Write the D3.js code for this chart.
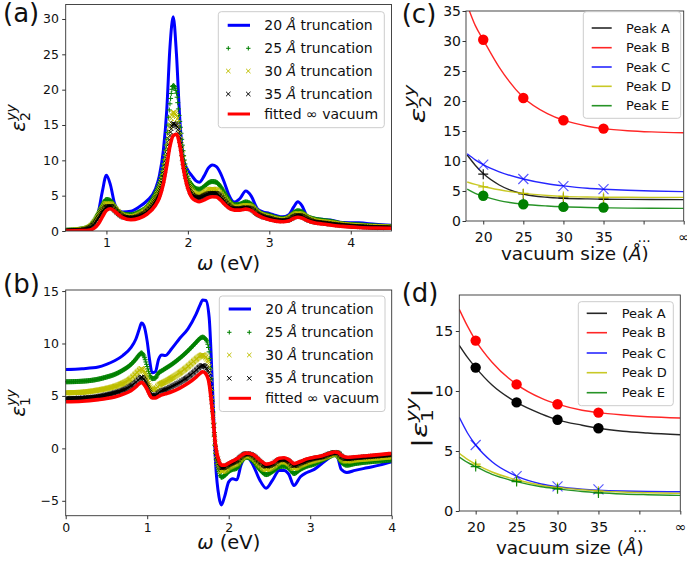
<!DOCTYPE html>
<html><head><meta charset="utf-8">
<script src="https://cdn.jsdelivr.net/npm/d3@7"></script>
<style>body{margin:0;background:#fff}svg{font-family:"DejaVu Sans",sans-serif;display:block}</style>
</head><body><svg id="fig" width="687" height="566"></svg>
<script>
// ---------------- DATA ----------------
const omegaA = [0.5,0.7,0.8,0.85,0.9,0.95,1.0,1.05,1.1,1.15,1.2,1.3,1.4,1.5,1.6,1.65,1.7,1.74,1.78,1.82,1.86,1.9,1.95,2.0,2.05,2.1,2.14,2.2,2.25,2.3,2.35,2.4,2.45,2.5,2.57,2.64,2.71,2.78,2.85,2.92,3.0,3.08,3.16,3.24,3.3,3.35,3.4,3.46,3.55,3.65,3.75,3.9,4.1,4.3,4.5];
const eps2_20 = [0.1,0.15,0.4,1.0,2.6,5.6,7.9,6.5,3.9,2.9,2.7,2.8,3.4,4.3,5.9,7.8,11.5,17,26,30.3,25,16,10,8.6,7.8,7.1,6.9,7.8,8.9,9.35,9.1,8.2,6.8,5.2,4.1,4.6,5.65,4.9,3.2,2.7,2.5,2.2,2.0,2.3,3.4,4.15,3.6,2.2,1.8,1.65,1.55,1.2,1.15,0.95,0.8];
const eps2_25 = [0.1,0.3,0.8,1.5,2.5,3.7,4.45,4.3,3.5,2.8,2.4,2.3,2.7,3.5,5.3,6.8,9.5,13,18,20.6,19.5,15.5,10.5,7.6,6.5,6.0,5.9,6.3,6.8,7.0,6.9,6.3,5.4,4.5,3.7,3.8,4.1,3.8,2.9,2.4,2.2,1.9,1.75,2.0,2.6,2.85,2.7,2.1,1.7,1.5,1.35,1.0,0.85,0.7,0.6];
const eps2_30 = [0.05,0.2,0.6,1.2,2.1,3.2,3.85,3.8,3.2,2.6,2.2,2.0,2.3,3.1,4.6,6.0,8.2,11,14.8,16.8,16.2,13.5,9.5,6.9,5.7,5.2,5.1,5.4,5.8,5.9,5.8,5.3,4.6,3.9,3.35,3.4,3.6,3.4,2.6,2.2,1.95,1.7,1.55,1.75,2.25,2.45,2.3,1.85,1.45,1.3,1.15,0.9,0.72,0.6,0.52];
const eps2_35 = [0.05,0.15,0.5,1.0,1.8,2.8,3.4,3.5,3.0,2.45,2.05,1.85,2.1,2.8,4.2,5.4,7.6,10.2,13.5,15.2,14.9,12.8,9.0,6.5,5.2,4.8,4.7,5.0,5.25,5.35,5.3,4.9,4.2,3.6,3.15,3.15,3.3,3.1,2.45,2.05,1.8,1.55,1.45,1.6,2.0,2.2,2.1,1.7,1.3,1.15,1.0,0.8,0.62,0.52,0.45];
const eps2_fit = [0.0,0.05,0.15,0.4,1.0,2.0,2.9,3.15,2.8,2.3,1.9,1.6,1.8,2.4,3.6,4.7,6.7,9.2,12,13.5,13.7,12.2,8.5,6.0,4.7,4.3,4.15,4.4,4.7,4.85,4.8,4.4,3.8,3.3,2.95,2.95,3.1,2.9,2.3,1.9,1.6,1.4,1.3,1.45,1.8,1.95,1.85,1.5,1.15,1.0,0.85,0.65,0.5,0.42,0.38];

const omegaB = [0,0.2,0.4,0.5,0.6,0.7,0.8,0.86,0.9,0.93,0.96,1.0,1.03,1.06,1.1,1.14,1.18,1.22,1.3,1.4,1.5,1.6,1.65,1.68,1.72,1.76,1.8,1.84,1.88,1.91,1.95,2.0,2.05,2.1,2.15,2.22,2.3,2.38,2.46,2.54,2.62,2.68,2.74,2.8,2.88,2.96,3.05,3.15,3.25,3.3,3.34,3.38,3.45,3.55,3.7,3.85,4.0];
const eps1_20 = [7.52,7.6,7.75,8.0,8.35,8.85,9.6,10.4,11.3,11.95,11.7,10.2,8.4,7.2,7.3,8.5,8.9,8.85,9.5,10.5,11.4,12.8,13.7,14.15,14.1,12.5,6.0,-1.5,-4.6,-5.4,-4.6,-3.2,-2.9,-3.0,-1.6,-0.8,-1.6,-3.0,-3.8,-3.0,-2.1,-2.1,-2.5,-3.55,-2.7,-2.3,-2.0,-1.4,-0.8,-0.5,-0.9,-2.0,-2.3,-2.1,-1.85,-1.6,-1.27];
const eps1_25 = [6.35,6.4,6.6,6.8,7.05,7.45,8.0,8.5,8.9,9.1,8.8,7.8,7.0,6.65,6.7,7.2,7.4,7.6,8.0,8.6,9.3,10.1,10.5,10.6,10.4,9.2,4.5,-0.5,-2.2,-2.75,-2.6,-2.2,-2.0,-1.9,-1.3,-0.85,-1.2,-2.0,-2.5,-2.2,-1.75,-1.7,-1.9,-2.4,-2.0,-1.7,-1.5,-1.1,-0.75,-0.6,-0.8,-1.3,-1.6,-1.45,-1.3,-1.2,-1.1];
const eps1_30 = [5.3,5.35,5.55,5.7,5.9,6.2,6.65,7.1,7.4,7.6,7.35,6.6,5.9,5.6,5.65,6.0,6.2,6.35,6.7,7.2,7.8,8.5,8.8,8.9,8.7,7.8,4.0,-0.2,-1.7,-2.2,-2.1,-1.8,-1.6,-1.4,-1.0,-0.65,-0.9,-1.55,-2.0,-1.75,-1.3,-1.25,-1.45,-1.9,-1.6,-1.35,-1.15,-0.9,-0.6,-0.45,-0.55,-0.95,-1.2,-1.1,-1.0,-0.9,-0.8];
const eps1_35 = [4.75,4.8,4.95,5.1,5.3,5.55,5.95,6.3,6.6,6.8,6.6,6.0,5.4,5.05,5.05,5.3,5.5,5.6,5.9,6.3,6.8,7.45,7.8,7.9,7.7,6.9,3.7,0.0,-1.4,-1.85,-1.8,-1.55,-1.35,-1.15,-0.8,-0.5,-0.7,-1.25,-1.7,-1.5,-1.1,-1.05,-1.25,-1.65,-1.4,-1.15,-0.95,-0.8,-0.5,-0.4,-0.45,-0.75,-1.0,-0.9,-0.8,-0.7,-0.6];
const eps1_fit = [4.45,4.5,4.65,4.75,4.9,5.15,5.5,5.85,6.15,6.3,6.1,5.6,5.1,4.8,4.8,4.95,5.1,5.2,5.4,5.75,6.2,6.8,7.15,7.3,7.1,6.2,3.5,0.2,-1.2,-1.6,-1.6,-1.4,-1.2,-1.0,-0.7,-0.45,-0.6,-1.1,-1.5,-1.35,-0.95,-0.9,-1.1,-1.45,-1.25,-1.0,-0.85,-0.7,-0.45,-0.35,-0.4,-0.65,-0.85,-0.8,-0.7,-0.6,-0.48];

const spectraLabels = ["20 Å truncation","25 Å truncation","30 Å truncation","35 Å truncation","fitted ∞ vacuum"];
const peakNames = ["Peak A","Peak B","Peak C","Peak D","Peak E"];

const vacSizes = [20,25,30,35];
const fitVac = [18,19,20,22,25,28,30,33,35,38,41,45];
const vacTickVals = [20,25,30,35,40,45];
const vacTickLabels = ["20","25","30","35","...","∞"];

// panel (c): eps2 peak heights
const c_pts_A = [7.8,4.5,3.8,3.65];
const c_pts_B = [30.2,20.5,16.8,15.4];
const c_pts_C = [9.4,7.0,5.8,5.3];
const c_pts_D = [5.7,4.6,4.1,3.9];
const c_pts_E = [4.2,2.8,2.35,2.25];
const c_fit_A = [11.0,9.3,7.9,6.0,4.5,3.95,3.8,3.68,3.63,3.6,3.58,3.57];
const c_fit_B = [36,32.6,30.2,25.6,20.6,17.9,16.8,15.8,15.4,15.05,14.85,14.7];
const c_fit_C = [11.2,10.2,9.4,8.2,7.0,6.2,5.85,5.45,5.3,5.12,5.0,4.9];
const c_fit_D = [6.5,6.1,5.75,5.2,4.6,4.25,4.1,4.0,3.97,3.95,3.94,3.93];
const c_fit_E = [5.3,4.6,4.15,3.4,2.8,2.5,2.37,2.25,2.2,2.15,2.12,2.1];
// panel (d): |eps1| peak heights
const d_pts_A = [11.95,9.05,7.6,6.9];
const d_pts_B = [14.2,10.55,8.9,8.2];
const d_pts_C = [5.5,2.9,2.05,1.8];
const d_pts_D = [3.9,2.55,1.95,1.65];
const d_pts_E = [3.7,2.45,1.85,1.5];
const d_fit_A = [13.8,12.8,11.95,10.5,9.05,8.1,7.6,7.15,6.9,6.65,6.5,6.35];
const d_fit_B = [16.8,15.4,14.2,12.4,10.55,9.4,8.9,8.4,8.2,8.0,7.85,7.75];
const d_fit_C = [7.8,6.5,5.5,4.1,2.9,2.25,2.02,1.82,1.74,1.67,1.63,1.6];
const d_fit_D = [4.8,4.3,3.9,3.25,2.6,2.15,1.97,1.77,1.68,1.58,1.52,1.47];
const d_fit_E = [4.5,4.05,3.7,3.05,2.45,2.02,1.85,1.62,1.52,1.42,1.36,1.3];

// ---------------- RENDER ----------------
const svg = d3.select("#fig");
const COL = {b:"#0000ff", g:"#008000", y:"#bfbf00", k:"#000000", r:"#ff0000"};

function makePanel(o){
  const x = d3.scaleLinear().domain(o.xd).range(o.xr);
  const y = d3.scaleLinear().domain(o.yd).range(o.yr);
  const g = svg.append("g");
  svg.append("clipPath").attr("id","clip"+o.id).append("rect")
    .attr("x",o.xr[0]).attr("y",o.yr[1]).attr("width",o.xr[1]-o.xr[0]).attr("height",o.yr[0]-o.yr[1]);
  const xa = d3.axisBottom(x).tickValues(o.xt).tickSize(3.5).tickPadding(o.xpad).tickFormat(o.xf||d3.format("d"));
  const ya = d3.axisLeft(y).tickValues(o.yt).tickSize(3.5).tickPadding(o.ypad).tickFormat(d3.format("d"));
  const style = s => { s.select(".domain").remove(); s.attr("font-size",o.tf).attr("font-family","DejaVu Sans");
    s.selectAll("line").attr("stroke","#333"); s.selectAll("text").attr("fill","#111"); };
  g.append("g").attr("transform",`translate(0,${o.yr[0]})`).call(xa).call(style);
  g.append("g").attr("transform",`translate(${o.xr[0]},0)`).call(ya).call(style);
  const plot = g.append("g").attr("clip-path",`url(#clip${o.id})`);
  g.append("rect").attr("x",o.xr[0]).attr("y",o.yr[1]).attr("width",o.xr[1]-o.xr[0])
    .attr("height",o.yr[0]-o.yr[1]).attr("fill","none").attr("stroke","#333").attr("stroke-width",0.9);
  return {x,y,g,plot};
}

function symPath(type, px, py, r){
  if(type==="+") return `M${px-r},${py}H${px+r}M${px},${py-r}V${py+r}`;
  return `M${px-r},${py-r}L${px+r},${py+r}M${px-r},${py+r}L${px+r},${py-r}`;
}

// positions of markers on the drawn curve at equally spaced omega
function pointsAtX(node, xsPx){
  const L = node.getTotalLength(), tab=[];
  for(let s=0;s<=L;s+=0.4){const p=node.getPointAtLength(s); tab.push([p.x,p.y]);}
  const out=[]; let j=0;
  for(const xp of xsPx){
    while(j<tab.length-2 && tab[j+1][0]<xp) j++;
    const a=tab[j], b=tab[j+1]; let t=b[0]===a[0]?0:(xp-a[0])/(b[0]-a[0]); t=Math.max(0,Math.min(1,t));
    out.push([xp, a[1]+(b[1]-a[1])*t]);
  }
  return out;
}

function spectrum(P, xs, ys, style){
  const data = xs.map((v,i)=>[v,ys[i]]);
  const line = d3.line().x(d=>P.x(d[0])).y(d=>P.y(d[1])).curve(d3.curveMonotoneX);
  if(style.kind==="line"){
    P.plot.append("path").attr("d",line(data)).attr("fill","none").attr("stroke",style.color)
      .attr("stroke-width",style.lw).attr("stroke-linejoin","round");
  } else {
    const guide = P.plot.append("path").attr("d",line(data)).attr("fill","none").attr("stroke","none");
    const om = d3.range(xs[0], xs[xs.length-1]+1e-9, 0.008).map(v=>P.x(v));
    const pts = pointsAtX(guide.node(), om);
    P.plot.append("path").attr("d",pts.map(p=>symPath(style.kind,p[0],p[1],style.r)).join(""))
      .attr("fill","none").attr("stroke",style.color).attr("stroke-width",style.sw);
    guide.remove();
  }
}

function spectraLegend(bx, by, bw, bh, lineYs, labels){
  const g = svg.append("g");
  g.append("rect").attr("x",bx).attr("y",by).attr("width",bw).attr("height",bh).attr("rx",3)
    .attr("fill","#fff").attr("fill-opacity",0.8).attr("stroke","#cccccc").attr("stroke-width",1);
  const st = [{kind:"line",color:COL.b,lw:3},{kind:"+",color:COL.g},{kind:"x",color:COL.y},{kind:"x",color:COL.k},{kind:"line",color:COL.r,lw:3}];
  st.forEach((s,i)=>{
    const ly = lineYs[i];
    if(s.kind==="line") g.append("line").attr("x1",bx+9.4).attr("x2",bx+31.7).attr("y1",ly).attr("y2",ly).attr("stroke",s.color).attr("stroke-width",s.lw);
    else g.append("path").attr("d",symPath(s.kind,bx+10,ly,2.2)+symPath(s.kind,bx+30,ly,2.2)).attr("stroke",s.color).attr("stroke-width",1).attr("fill","none");
    const t = g.append("text").attr("x",bx+46).attr("y",ly+5).attr("font-size",14).attr("fill","#111");
    const lab = labels[i];
    const k = lab.indexOf("Å");
    if(k>=0){ t.append("tspan").text(lab.slice(0,k)); t.append("tspan").attr("font-style","italic").text("Å"); t.append("tspan").text(lab.slice(k+1)); }
    else t.text(lab);
  });
}

function peakLegend(bx, by, bw, bh, lineYs, colors, x1, x2, tx){
  const g = svg.append("g");
  g.append("rect").attr("x",bx).attr("y",by).attr("width",bw).attr("height",bh).attr("rx",3)
    .attr("fill","#fff").attr("fill-opacity",0.8).attr("stroke","#cccccc").attr("stroke-width",1);
  peakNames.forEach((n,i)=>{
    g.append("line").attr("x1",x1).attr("x2",x2).attr("y1",lineYs[i]).attr("y2",lineYs[i]).attr("stroke",colors[i]).attr("stroke-width",1.6).attr("stroke-opacity",0.85);
    g.append("text").attr("x",tx).attr("y",lineYs[i]+4.7).attr("font-size",13).attr("fill","#111").text(n);
  });
}

function epsLabel(cx, cy, sub, abs, ms, ss, stretch){
  const t = svg.append("text").attr("transform",`translate(${cx},${cy}) rotate(-90) scale(${stretch||1},1)`).attr("text-anchor","middle")
    .attr("font-size",ms).attr("fill","#111");
  if(abs) t.append("tspan").text("|");
  t.append("tspan").attr("font-style","italic").text("ε");
  t.append("tspan").attr("font-size",ss).attr("dy",0.25*ms).text(sub);
  t.append("tspan").attr("font-size",ss).attr("font-style","italic").attr("dx",-0.636*ss).attr("dy",-0.72*ms).text("yy");
  if(abs) t.append("tspan").attr("dy",0.47*ms).text("|");
}

function textLabel(x, y, parts, size, anchor){
  const t = svg.append("text").attr("x",x).attr("y",y).attr("font-size",size).attr("text-anchor",anchor||"middle").attr("fill","#111");
  parts.forEach(p=>{ const s=t.append("tspan").text(p[0]); if(p[1]) s.attr("font-style","italic"); });
}

// ---- Panel (a)
const PA = makePanel({id:"a", xd:[0.5,4.5], xr:[65.7,391.5], yd:[0,32.05], yr:[231,4.5],
  xt:[1,2,3,4], yt:[0,5,10,15,20,25,30], tf:12.5, xpad:4, ypad:3.2});
spectrum(PA, omegaA, eps2_20, {kind:"line",color:COL.b,lw:3});
spectrum(PA, omegaA, eps2_25, {kind:"+",color:COL.g,r:2.5,sw:1});
spectrum(PA, omegaA, eps2_30, {kind:"x",color:COL.y,r:2.5,sw:1});
spectrum(PA, omegaA, eps2_35, {kind:"x",color:COL.k,r:2.2,sw:0.9});
spectrum(PA, omegaA, eps2_fit, {kind:"line",color:COL.r,lw:3.6});
spectraLegend(218.3, 11.7, 166, 116, [25.3,48.3,71,94,114], spectraLabels);

// ---- Panel (b)
const PB = makePanel({id:"b", xd:[0,4], xr:[65.7,391.7], yd:[-6.42,15.1], yr:[515.7,290],
  xt:[0,1,2,3,4], yt:[-5,0,5,10,15], tf:12.5, xpad:4, ypad:3.2});
spectrum(PB, omegaB, eps1_20, {kind:"line",color:COL.b,lw:3});
spectrum(PB, omegaB, eps1_25, {kind:"+",color:COL.g,r:2.5,sw:1});
spectrum(PB, omegaB, eps1_30, {kind:"x",color:COL.y,r:2.5,sw:1});
spectrum(PB, omegaB, eps1_35, {kind:"x",color:COL.k,r:2.2,sw:0.9});
spectrum(PB, omegaB, eps1_fit, {kind:"line",color:COL.r,lw:3.6});
spectraLegend(219.3, 296, 165.7, 115.5, [309,332.3,355,378.3,398.3], spectraLabels);

// ---- Panels (c), (d)
function peakPanel(P, fits, pts, marks, colors){
  const line = d3.line().x((d,i)=>P.x(fitVac[i])).y(d=>P.y(d)).curve(d3.curveMonotoneX);
  fits.forEach((f,k)=>{
    P.plot.append("path").attr("d",line(f)).attr("fill","none").attr("stroke",colors[k]).attr("stroke-width",1.4).attr("stroke-opacity",0.85);
    const m = marks[k];
    pts[k].forEach((v,i)=>{
      const px=P.x(vacSizes[i]), py=P.y(v);
      if(m==="o") P.plot.append("circle").attr("cx",px).attr("cy",py).attr("r",5.2).attr("fill",colors[k]);
      else P.plot.append("path").attr("d",symPath(m,px,py,5)).attr("stroke",colors[k]).attr("stroke-width",1.2)
        .attr("stroke-opacity",m==="x"?0.65:0.9).attr("fill","none");
    });
  });
}
const peakColors = [COL.k, COL.r, COL.b, COL.y, COL.g];
const vacFmt = d => vacTickLabels[vacTickVals.indexOf(d)];

const PC = makePanel({id:"c", xd:[17.85,45], xr:[466,683.7], yd:[0,35], yr:[221,11],
  xt:vacTickVals, xf:vacFmt, yt:[0,5,10,15,20,25,30,35], tf:14, xpad:8, ypad:1.5});
peakPanel(PC, [c_fit_A,c_fit_B,c_fit_C,c_fit_D,c_fit_E], [c_pts_A,c_pts_B,c_pts_C,c_pts_D,c_pts_E], ["+","o","x","+","o"], peakColors);
peakLegend(583.3, 11.7, 97.4, 106.6, [28,47.7,67,86.3,105.7], peakColors, 591.7, 611.7, 626);

const PD = makePanel({id:"d", xd:[18,45], xr:[459.3,680.3], yd:[0,18], yr:[511,295],
  xt:vacTickVals, xf:vacFmt, yt:[0,5,10,15], tf:14.5, xpad:7, ypad:2.5});
peakPanel(PD, [d_fit_A,d_fit_B,d_fit_C,d_fit_D,d_fit_E], [d_pts_A,d_pts_B,d_pts_C,d_pts_D,d_pts_E], ["o","o","x","+","+"], peakColors);
peakLegend(578.3, 301.7, 95, 104, [313.3,332.7,353,372.7,392.7], peakColors, 586.7, 607, 621.7);

// ---- Axis labels
textLabel(228.6, 270, [["ω",true],[" (eV)"]], 19.5);
textLabel(228.7, 549, [["ω",true],[" (eV)"]], 19.5);
textLabel(574.9, 260, [["vacuum size ("],["Å",true],[")"]], 18.4);
textLabel(569.8, 554, [["vacuum size ("],["Å",true],[")"]], 18.4);
epsLabel(25, 118, "2", false, 20, 14, 1);
epsLabel(25, 403, "1", false, 20, 14, 1);
epsLabel(425, 104, "2", false, 22, 15, 1.3);
epsLabel(427, 418, "1", true, 22, 15, 1.35);

// ---- Panel letters
textLabel(3, 22, [["(a)"]], 26, "start");
textLabel(3, 293, [["(b)"]], 26, "start");
textLabel(401.7, 23, [["(c)"]], 26, "start");
textLabel(401.7, 301.5, [["(d)"]], 26, "start");
</script></body></html>
